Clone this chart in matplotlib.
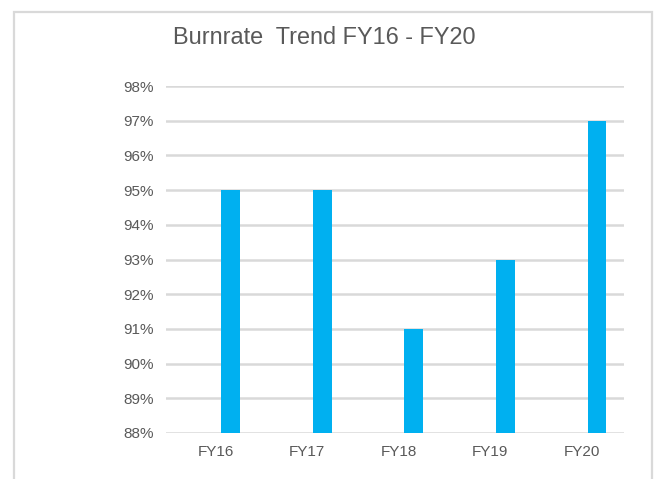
import matplotlib
matplotlib.use("Agg")
import matplotlib.pyplot as plt
from matplotlib.patches import Rectangle
from matplotlib.ticker import FuncFormatter

categories = ["FY16", "FY17", "FY18", "FY19", "FY20"]
burnrate = [95, 95, 91, 93, 97]
yticks = [88, 89, 90, 91, 92, 93, 94, 95, 96, 97, 98]

plt.rcParams['font.family'] = ['Liberation Sans', 'DejaVu Sans']

W, H = 654, 479
fig = plt.figure(figsize=(W / 100, H / 100), dpi=100)
fig.patch.set_facecolor('white')

# outer frame
fig.patches.append(Rectangle((13.5 / W, -0.05), (652 - 13.5) / W, 1.05 - 11.5 / H,
                             transform=fig.transFigure, fill=False,
                             edgecolor='#d9d9d9', linewidth=1.6, clip_on=False))

left, right = 166 / W, 624 / W
bottom, top = 1 - 433 / H, 1 - 86 / H
ax = fig.add_axes([left, bottom, right - left, top - bottom])

x = list(range(len(categories)))
bw = 0.205
ax.bar([i + bw for i in x], [v - 88 for v in burnrate], bottom=88, width=bw,
       color='#00B0F0', zorder=3)

ax.set_xlim(-0.5, len(categories) - 0.5)
ax.set_ylim(88, 98)
ax.set_yticks(yticks)
ax.yaxis.set_major_formatter(FuncFormatter(lambda v, p: f"{v:.0f}%"))
ax.set_xticks([i + 0.04 for i in x])
ax.set_xticklabels(categories)

ax.grid(axis='y', color='#d9d9d9', linewidth=1.8, zorder=0)
ax.set_axisbelow(True)
for s in ax.spines.values():
    s.set_visible(False)
ax.tick_params(axis='both', length=0, labelsize=11, colors='#595959')
ax.tick_params(axis='y', pad=9)
ax.tick_params(axis='x', pad=9)

fig.text(324 / W, 1 - 38 / H, "Burnrate  Trend FY16 - FY20", ha='center', va='center',
         fontsize=16.9, color='#595959')

fig.savefig("out.png", dpi=100, facecolor='white')
